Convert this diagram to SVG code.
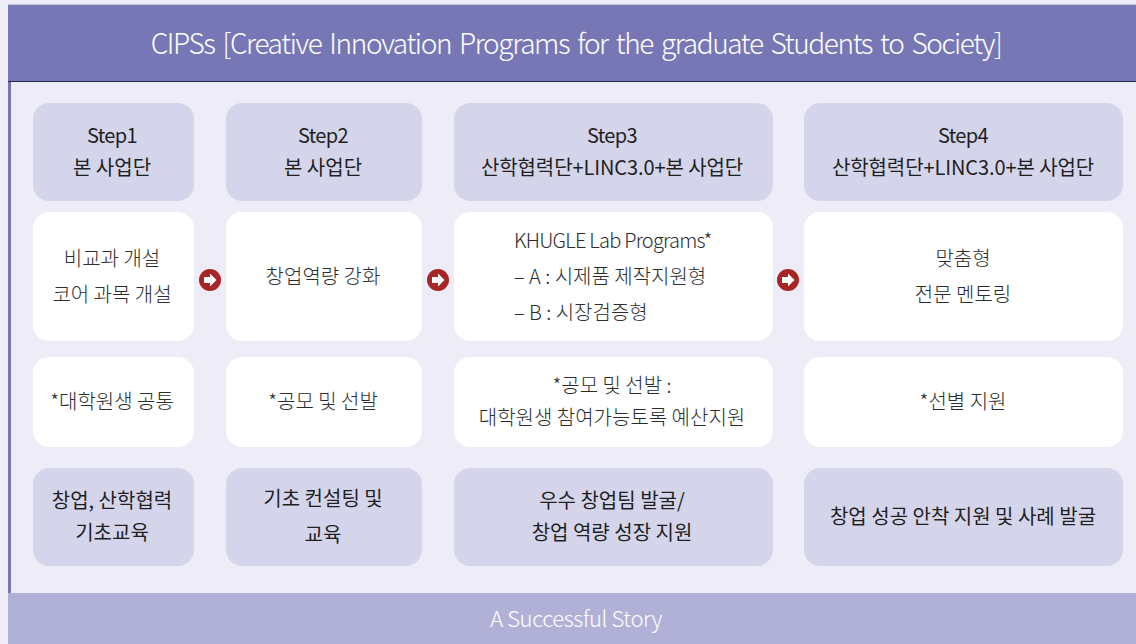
<svg xmlns="http://www.w3.org/2000/svg" width="1136" height="644" viewBox="0 0 1136 644">
<style>
text{font-family:"Noto Sans CJK KR","Noto Sans",sans-serif;font-size:20px;fill:#1f1f1f;text-anchor:middle;font-weight:400}
.h{fill:#d4d5ea}.w{fill:#fff}
.s{letter-spacing:-.1px}
.st{letter-spacing:-.6px}
.l{text-anchor:start}
.g{fill:#2c2c2c;font-weight:300}
</style>
<defs>
<g id="arrow"><circle r="11" fill="#a82525"/><path d="M-6-3H0V-6.500L6.500 0 0 6.500V3H-6Z" fill="#fff"/></g>
</defs>
<rect width="1136" height="644" fill="#eeedf7"/>
<rect x="8" y="4" width="1128" height="1" fill="#c5c5e0"/>
<rect x="8" y="82" width="3" height="562" fill="#7877b5"/>
<g id="title"><rect x="8" y="5" width="1128" height="76" fill="#7877b5"/><rect x="8" y="81" width="1128" height="1" fill="#26264a"/><text x="576" y="54" style="font-size:28px;fill:#fff;font-weight:300;letter-spacing:-1.4px;word-spacing:3.2px">CIPSs [Creative Innovation Programs for the graduate Students to Society]</text></g>
<g id="step1"><rect class="h" x="33" y="103" width="161" height="98" rx="16"/><text class="st" x="112" y="143">Step1</text><text x="112" y="175">본 사업단</text></g>
<g id="step2"><rect class="h" x="226" y="103" width="196" height="98" rx="16"/><text class="st" x="323" y="143">Step2</text><text x="323" y="175">본 사업단</text></g>
<g id="step3"><rect class="h" x="454" y="103" width="319" height="98" rx="16"/><text class="st" x="612" y="143">Step3</text><text class="s" x="612" y="175">산학협력단+LINC3.0+본 사업단</text></g>
<g id="step4"><rect class="h" x="804" y="103" width="319" height="98" rx="16"/><text class="st" x="963" y="143">Step4</text><text class="s" x="963" y="175">산학협력단+LINC3.0+본 사업단</text></g>
<g id="program1"><rect class="w" x="33" y="212" width="161" height="129" rx="16"/><text class="g" x="112" y="266">비교과 개설</text><text class="g" x="112" y="302">코어 과목 개설</text></g>
<g id="program2"><rect class="w" x="226" y="212" width="196" height="129" rx="16"/><text class="g" x="323" y="284">창업역량 강화</text></g>
<g id="program3"><rect class="w" x="454" y="212" width="319" height="129" rx="16"/><text class="l g" x="514" y="248" style="letter-spacing:-.75px">KHUGLE Lab Programs*</text><text class="l g" x="514" y="284">– A : 시제품 제작지원형</text><text class="l g" x="514" y="320">– B : 시장검증형</text></g>
<g id="program4"><rect class="w" x="804" y="212" width="319" height="129" rx="16"/><text class="g" x="963" y="266">맞춤형</text><text class="g" x="963" y="302">전문 멘토링</text></g>
<g id="note1"><rect class="w" x="33" y="357" width="161" height="90" rx="16"/><text class="g" x="112" y="409">*대학원생 공통</text></g>
<g id="note2"><rect class="w" x="226" y="357" width="196" height="90" rx="16"/><text class="g" x="323" y="409">*공모 및 선발</text></g>
<g id="note3"><rect class="w" x="454" y="357" width="319" height="90" rx="16"/><text class="g" x="612" y="393">*공모 및 선발 :</text><text class="g" x="612" y="425">대학원생 참여가능토록 예산지원</text></g>
<g id="note4"><rect class="w" x="804" y="357" width="319" height="90" rx="16"/><text class="g" x="963" y="409">*선별 지원</text></g>
<g id="result1"><rect class="h" x="33" y="468" width="161" height="98" rx="16"/><text x="112" y="508">창업, 산학협력</text><text x="112" y="540">기초교육</text></g>
<g id="result2"><rect class="h" x="226" y="468" width="196" height="98" rx="16"/><text x="323" y="506">기초 컨설팅 및</text><text x="323" y="542">교육</text></g>
<g id="result3"><rect class="h" x="454" y="468" width="319" height="98" rx="16"/><text x="612" y="508">우수 창업팀 발굴/</text><text x="612" y="540">창업 역량 성장 지원</text></g>
<g id="result4"><rect class="h" x="804" y="468" width="319" height="98" rx="16"/><text x="963" y="524">창업 성공 안착 지원 및 사례 발굴</text></g>
<g id="footer"><rect x="8" y="593" width="1128" height="51" fill="#b1b1d7"/><text x="576" y="627" style="font-size:22px;fill:#fff;font-weight:300;letter-spacing:-.4px">A Successful Story</text></g>
<g id="connectors"><use href="#arrow" x="210" y="280"/><use href="#arrow" x="438" y="280"/><use href="#arrow" x="788" y="280"/></g>
</svg>
